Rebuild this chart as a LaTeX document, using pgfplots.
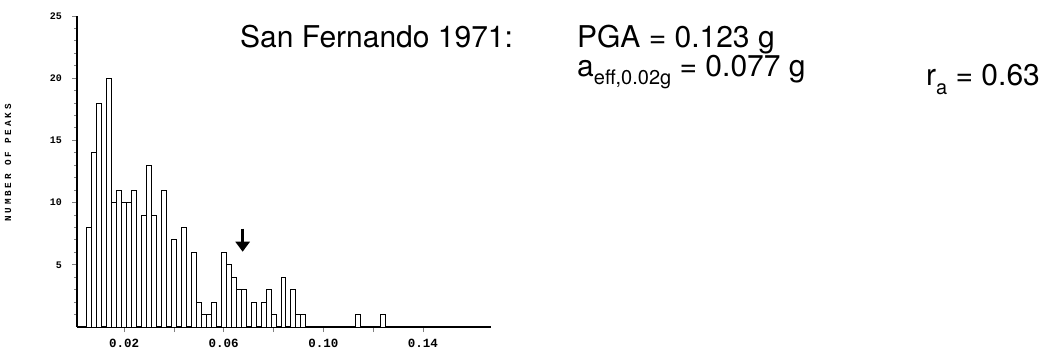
\documentclass[border=0pt]{standalone}
\usepackage{fontspec}
\setmainfont{TeX Gyre Heros}
\newfontfamily\plotfont{Liberation Mono}
\newfontfamily\plotlabelfont[LetterSpace=30]{Liberation Mono}
\usepackage{pgfplots}
\usepackage{pgfplotstable}
\pgfplotsset{compat=1.18}
\usetikzlibrary{arrows.meta}

% number of peaks per 0.002 g bin (bin centres)
\pgfplotstableread{
x      n
0.006  8
0.008  14
0.010  18
0.014  20
0.016  10
0.018  11
0.020  10
0.022  10
0.024  11
0.028  9
0.030  13
0.032  9
0.036  11
0.040  7
0.044  8
0.048  6
0.050  2
0.052  1
0.054  1
0.056  2
0.060  6
0.062  5
0.064  4
0.066  3
0.068  3
0.072  2
0.076  2
0.078  3
0.080  1
0.084  4
0.088  3
0.090  1
0.092  1
0.114  1
0.124  1
}\peaks

% lowered subscript set in the text font
\newcommand\sub[1]{\raisebox{-8pt}{\fontsize{20}{20}\selectfont #1}}

\begin{document}
\begin{tikzpicture}
\useasboundingbox (0pt,0pt) rectangle (1046pt,354pt);
\begin{axis}[
  at={(77pt,27pt)}, anchor=south west,
  scale only axis, width=414pt, height=311pt,
  xmin=0.0011, xmax=0.1673, ymin=0, ymax=25,
  axis x line*=bottom, axis y line*=left,
  x axis line style={line width=1.6pt},
  y axis line style={line width=1.3pt},
  ybar, bar width=0.002,
  tick align=outside,
  major tick length=5pt, minor tick length=3pt,
  xtick={0.02,0.04,0.06,0.08,0.10,0.12,0.14},
  xticklabels={0.02,,0.06,,0.10,,0.14},
  x tick style={line width=0.8pt},
  y tick style={line width=1pt},
  ytick={5,10,15,20,25},
  yticklabels={5,10,15,20,25},
  minor ytick={1,2,3,4,6,7,8,9,11,12,13,14,16,17,18,19,21,22,23,24},
  xticklabel style={font=\plotfont\bfseries\fontsize{12.5}{12.5}\selectfont, yshift=-4pt},
  yticklabel style={font=\plotfont\bfseries\fontsize{10}{10}\selectfont, xshift=-6.5pt},
  clip=false,
]
\addplot[draw=black, fill=white, line width=1pt] table[x=x, y=n] {\peaks};
\draw[line width=3pt, -{Triangle[width=14pt,length=10pt]}]
  (axis cs:0.0676,7.9) -- (axis cs:0.0676,6.05);
\end{axis}

\node[rotate=90, font=\plotlabelfont\bfseries\fontsize{9.3}{9.3}\selectfont]
  at (8pt,191pt) {NUMBER OF PEAKS};

\begin{scope}[every node/.style={anchor=base west, inner sep=0pt,
    font=\fontsize{30}{30}\selectfont}]
\node at (240pt,306pt) {San Fernando 1971:};
\node at (577pt,306pt) {PGA = 0.123 g};
\node at (577pt,277pt) {a\sub{eff,0.02g} = 0.077 g};
\node at (926pt,268pt) {r\sub{a} = 0.63};
\end{scope}
\end{tikzpicture}
\end{document}
